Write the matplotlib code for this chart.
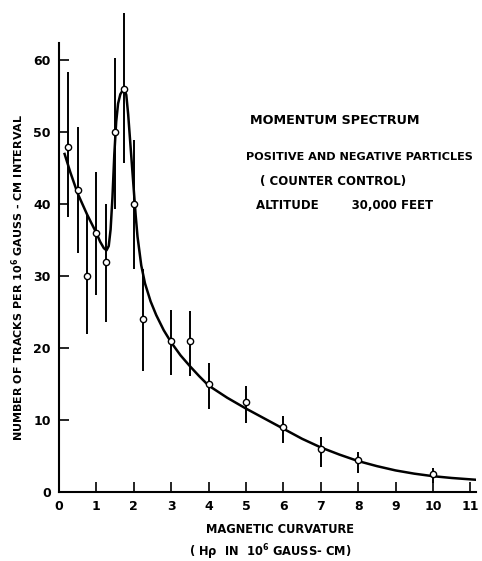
import numpy as np
import matplotlib.pyplot as plt

# ── data ──────────────────────────────────────────────────────────────────────
x_pts   = [0.25, 0.5, 0.75, 1.0, 1.25, 1.5, 1.75, 2.0, 2.25, 3.0, 3.5, 4.0, 5.0, 6.0, 7.0, 8.0, 10.0]
y_pts   = [48, 42, 30, 36, 32, 50, 56, 40, 24, 21, 21, 15, 12.5, 9, 6, 4.5, 2.5]
err_lo  = [38.2, 33.2, 22, 27.4, 23.6, 39.4, 45.7, 31, 16.8, 16.3, 16.1, 11.5, 9.6, 6.8, 3.5, 2.7, 1.3]
err_hi  = [58.4, 50.8, 38.7, 44.5, 40, 60.4, 66.6, 49, 31, 25.3, 25.2, 18, 14.7, 10.5, 7.6, 5.5, 3.3]

# smooth fitted curve, traced by eye
curve_x = [0.15, 0.3, 0.5, 0.75, 1.0, 1.1, 1.2, 1.27, 1.33, 1.38, 1.43, 1.48, 1.53, 1.58,
           1.64, 1.7, 1.75, 1.8, 1.85, 1.9, 1.95, 2.0, 2.05, 2.1, 2.2, 2.3, 2.45,
           2.6, 2.8, 3.0, 3.25, 3.5, 3.75, 4.0, 4.5, 5.0, 5.5, 6.0, 6.5, 7.0,
           7.5, 8.0, 8.5, 9.0, 9.5, 10.0, 10.5, 11.15]
curve_y = [47, 44.5, 41.5, 38.6, 36, 34.8, 33.9, 33.6, 34.2, 36.5, 41, 47, 51.5, 54,
           55.3, 55.8, 56, 55.2, 52.5, 49, 45.5, 42, 38.5, 35.5, 31.5, 29, 26.5,
           24.6, 22.5, 20.8, 19, 17.5, 16.1, 14.8, 13.1, 11.6, 10.2, 8.8, 7.4, 6.2,
           5.2, 4.3, 3.6, 3.0, 2.55, 2.2, 1.95, 1.7]

x_ticks = list(range(0, 12))
y_ticks = [0, 10, 20, 30, 40, 50, 60]

title_lines = ["MOMENTUM SPECTRUM",
               "POSITIVE AND NEGATIVE PARTICLES",
               "( COUNTER CONTROL)",
               "ALTITUDE        30,000 FEET"]

plt.rcParams["font.family"] = ["DejaVu Sans"]
plt.rcParams["font.weight"] = "bold"

fig = plt.figure(figsize=(4.82, 5.61), dpi=100)
ax = fig.add_axes([0.1224, 0.123, 0.865, 0.80])

ax.plot(curve_x, curve_y, color="black", linewidth=1.8, zorder=2)
yerr = [np.array(y_pts) - np.array(err_lo), np.array(err_hi) - np.array(y_pts)]
eb = ax.errorbar(x_pts, y_pts, yerr=yerr, fmt="o", color="black", ecolor="black",
                 elinewidth=1.4, capsize=0, markersize=4.5, markerfacecolor="white",
                 markeredgewidth=1.0, zorder=3)
for coll in eb.lines[2]:
    coll.set_clip_on(False)

ax.set_xlim(0, 11.15)
ax.set_ylim(0, 62.4)
ax.set_xticks(x_ticks)
ax.set_yticks(y_ticks)
ax.tick_params(direction="in", length=7, width=1.2, labelsize=9, pad=6)
for lbl in ax.get_xticklabels() + ax.get_yticklabels():
    lbl.set_fontweight("bold")
ax.spines["top"].set_visible(False)
ax.spines["right"].set_visible(False)
ax.spines["left"].set_linewidth(1.5)
ax.spines["bottom"].set_linewidth(1.5)

ax.set_ylabel("NUMBER OF TRACKS PER 10$^{\\mathbf{6}}$ GAUSS - CM INTERVAL",
              fontsize=8, fontweight="bold")
ax.yaxis.set_label_coords(-0.08, 0.479)
fig.text(0.58, 0.056, "MAGNETIC CURVATURE", ha="center", va="center",
         fontsize=8.3, fontweight="bold")
fig.text(0.56, 0.016, "( Hρ  IN  10$^{\\mathbf{6}}$ GAUSS- CM)", ha="center", va="center",
         fontsize=8.3, fontweight="bold")

ty = [0.786, 0.72, 0.677, 0.633]
tx = [0.695, 0.745, 0.691, 0.714]
fs = [9.2, 8.1, 8.5, 8.5]
for t, xx, yy, f in zip(title_lines, tx, ty, fs):
    fig.text(xx, yy, t, ha="center", va="center", fontsize=f, fontweight="bold")

fig.savefig("out.png", dpi=100)
